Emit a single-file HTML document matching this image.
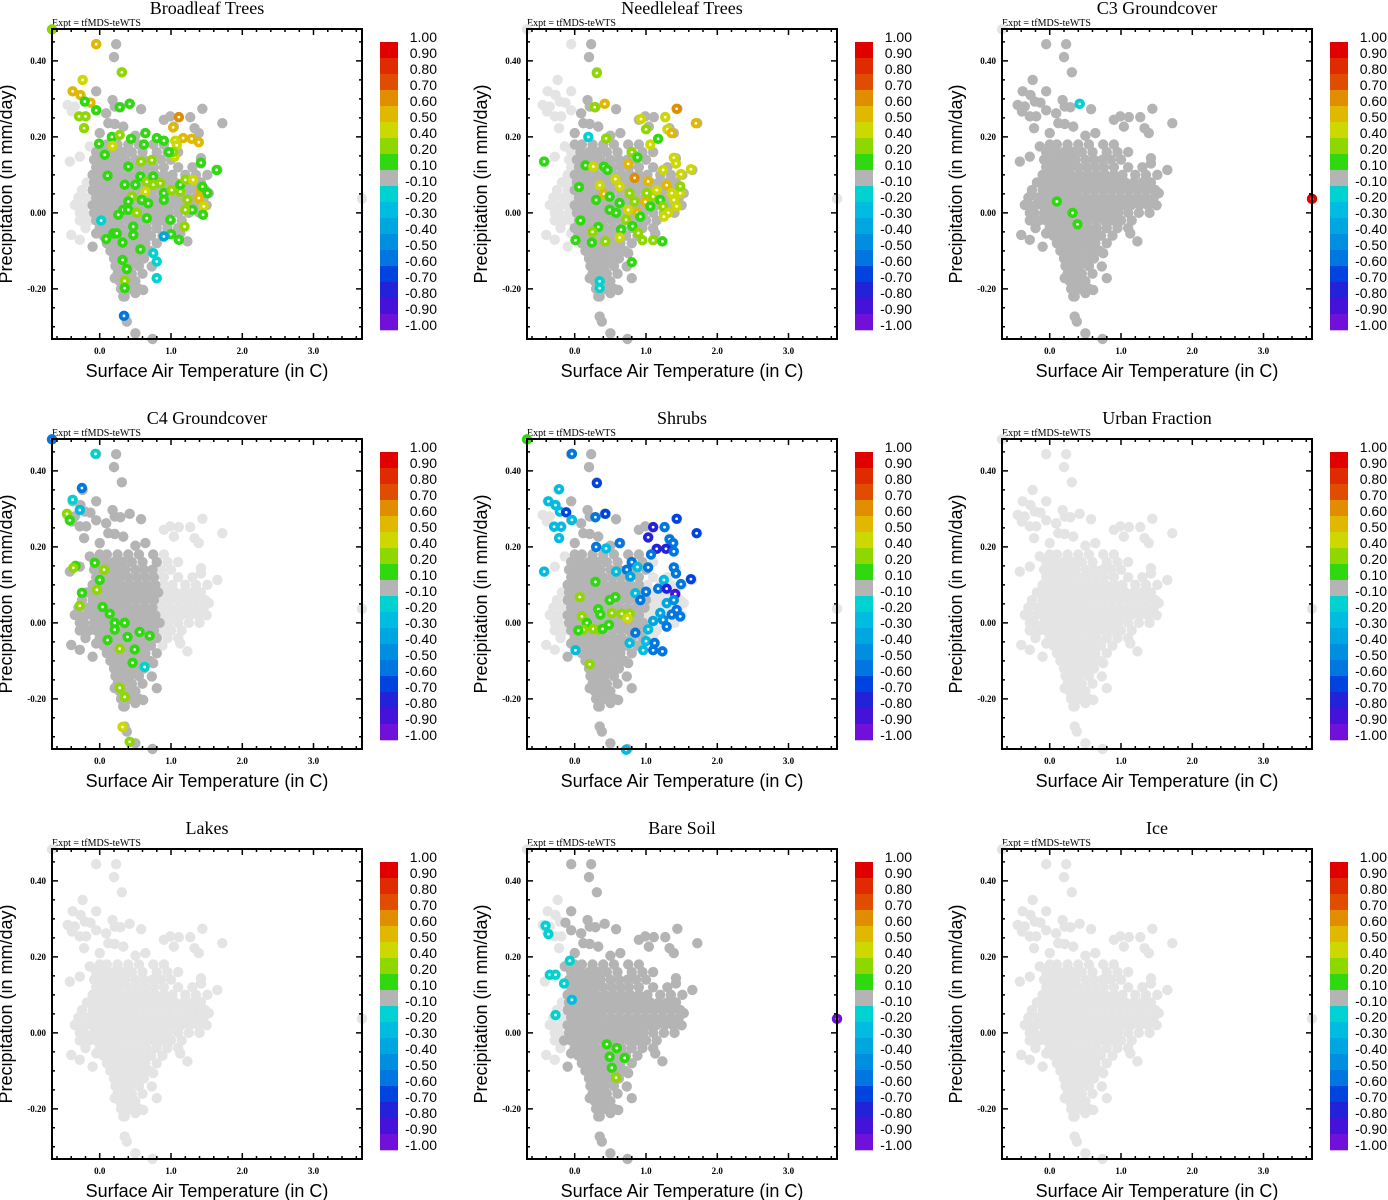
<!DOCTYPE html>
<html><head><meta charset="utf-8"><style>
html,body{margin:0;padding:0;background:#fff}
svg{display:block}
</style></head><body>
<svg id="fig" width="1388" height="1200" viewBox="0 0 1388 1200" xmlns="http://www.w3.org/2000/svg"></svg>
<script>
const panelTitles=["Broadleaf Trees","Needleleaf Trees","C3 Groundcover","C4 Groundcover","Shrubs","Urban Fraction","Lakes","Bare Soil","Ice"];
const xTicks=[0,1,2,3];
const xTickLabels=["0.0","1.0","2.0","3.0"];
const yTicks=[0.4,0.2,0,-0.2];
const yTickLabels=["0.40","0.20","0.00","-0.20"];
const cbLevels=[1.0,0.9,0.8,0.7,0.6,0.5,0.4,0.2,0.1,-0.1,-0.2,-0.3,-0.4,-0.5,-0.6,-0.7,-0.8,-0.9,-1.0];
const cbLabels=["1.00","0.90","0.80","0.70","0.60","0.50","0.40","0.20","0.10","-0.10","-0.20","-0.30","-0.40","-0.50","-0.60","-0.70","-0.80","-0.90","-1.00"];
const cbColors=["#e00000","#e02a00","#e04c00","#e08e00","#e0b800","#ccd800","#8ed800","#30d810","#b4b4b4","#00d2d2","#00bce0","#00a6e0","#008ee0","#0076e0","#0044e0","#2222d8","#4412d8","#7010d8"];
// shared scatter cloud (rows of constant precipitation)
const cloudRowP=[0.18,0.16,0.14,0.12,0.10,0.08,0.06,0.04,0.02,0.00,-0.02,-0.04,-0.06,-0.08,-0.10,-0.12,-0.14,-0.16,-0.18,-0.20,-0.22];
const cloudRowT=[
[0.0,0.1,0.25,0.4,0.55,0.75,0.9],
[-0.05,0.08,0.2,0.32,0.45,0.6,0.8,0.95,1.1],
[-0.08,0.03,0.14,0.25,0.36,0.5,0.62,0.74,0.86,1.0],
[-0.05,0.06,0.17,0.28,0.4,0.52,0.64,0.76,0.9,1.1,1.3],
[-0.1,0.0,0.1,0.2,0.3,0.42,0.54,0.66,0.78,0.9,1.02,1.2,1.35],
[-0.18,-0.08,0.03,0.14,0.25,0.36,0.47,0.58,0.7,0.82,0.94,1.06,1.18,1.3,1.42],
[-0.25,-0.1,0.0,0.1,0.2,0.3,0.4,0.52,0.64,0.76,0.88,1.0,1.12,1.24,1.36,1.48],
[-0.3,-0.17,-0.05,0.06,0.17,0.28,0.39,0.5,0.62,0.74,0.86,0.98,1.1,1.22,1.34,1.46],
[-0.3,-0.2,-0.1,0.0,0.1,0.2,0.3,0.42,0.54,0.66,0.78,0.9,1.02,1.14,1.26,1.38,1.5],
[-0.22,-0.08,0.03,0.14,0.25,0.36,0.48,0.6,0.72,0.84,0.96,1.1,1.25,1.4],
[-0.28,-0.15,-0.05,0.06,0.17,0.28,0.4,0.52,0.64,0.76,0.88,1.0,1.15],
[-0.2,0.0,0.1,0.2,0.3,0.42,0.54,0.66,0.8,0.95,1.1],
[0.05,0.15,0.25,0.36,0.48,0.6,0.72,0.88],
[0.1,0.2,0.3,0.4,0.52,0.64,0.8],
[0.15,0.25,0.35,0.45,0.58,0.7],
[0.2,0.3,0.4,0.5,0.62],
[0.22,0.32,0.42,0.55],
[0.25,0.35,0.45,0.6],
[0.28,0.38,0.5],
[0.3,0.42,0.55],
[0.35]];
const outT=[-0.05,0.23,0.20,0.31,-0.24,-0.38,-0.27,-0.05,-0.45,-0.35,-0.39,-0.28,-0.19,-0.21,-0.13,-0.05,0.18,0.21,0.29,0.42,0.58,1.44,1.72,0.09,0.12,0.21,0.33,-0.22,0.0,0.9,0.99,1.11,1.27,1.33,1.39,1.04,0.64,0.5,-0.14,-0.28,-0.42,1.42,1.42,1.65,1.51,-0.26,-0.35,-0.28,-0.4,-0.28,-0.1,-0.05,1.23,1.13,1.53,0.75,0.8,0.73,0.21,0.33,0.5,0.61,0.35,0.38,0.5,0.74,-0.67,3.68];
const outP=[0.444,0.444,0.41,0.37,0.35,0.32,0.31,0.32,0.284,0.28,0.267,0.254,0.254,0.293,0.29,0.27,0.297,0.28,0.278,0.287,0.273,0.274,0.236,0.262,0.236,0.234,0.227,0.223,0.21,0.245,0.254,0.252,0.252,0.223,0.21,0.227,0.21,0.203,0.175,0.148,0.135,0.144,0.13,0.113,0.1,0.047,0.021,0,-0.058,-0.071,-0.089,-0.054,-0.075,-0.054,0.052,-0.106,-0.172,-0.141,-0.172,-0.22,-0.211,-0.203,-0.273,-0.286,-0.317,-0.332,0.483,0.037];
const darkLo=[-0.1,0.0,-0.5,-0.5,-0.12,null,null,-0.15,null];
const darkHi=[1.8,1.8,1.8,0.85,1.0,null,null,1.8,null];
const broadleafT=[-0.67,-0.05,0.31,-0.24,-0.38,-0.27,-0.13,-0.21,-0.05,0.28,0.42,-0.29,-0.2,-0.22,1.11,1.03,1.17,1.29,1.39,1.06,1.08,1.05,1.03,-0.01,0.17,0.28,0.18,0.44,0.64,0.62,0.8,0.9,0.97,0.07,0.4,0.11,1.42,1.64,0.58,0.73,0.57,0.66,0.75,0.85,0.64,0.75,0.5,0.45,0.35,0.59,0.68,0.9,0.9,1.01,1.13,1.13,1.2,1.31,1.23,1.3,1.2,1.42,1.44,1.51,1.39,1.46,1.45,0.4,0.33,0.26,0.4,0.52,0.66,0.47,0.99,1.19,0.09,0.19,0.24,0.32,0.47,0.57,1.0,1.11,0.32,0.38,0.35,0.35,0.75,0.8,0.8,0.02,0.34,0.9];
const broadleafP=[0.483,0.444,0.37,0.35,0.32,0.31,0.29,0.293,0.27,0.278,0.287,0.254,0.254,0.223,0.252,0.225,0.197,0.195,0.186,0.19,0.178,0.148,0.16,0.182,0.2,0.205,0.176,0.195,0.21,0.18,0.197,0.19,0.16,0.153,0.122,0.098,0.132,0.113,0.135,0.139,0.096,0.082,0.096,0.078,0.056,0.074,0.074,0.043,0.074,0.034,0.025,0.052,0.034,0.06,0.056,0.074,0.087,0.087,0.034,0.008,0.008,0.06,0.069,0.052,0.039,0.017,-0.005,0.03,0.008,-0.005,0.008,0,-0.014,-0.036,-0.018,-0.036,-0.069,-0.054,-0.054,-0.078,-0.058,-0.096,-0.056,-0.071,-0.124,-0.148,-0.179,-0.198,-0.106,-0.128,-0.172,-0.02,-0.271,-0.062];
const broadleafV=[0.3,0.55,0.3,0.45,0.55,0.55,0.55,0.15,0.15,0.15,0.15,0.3,0.3,0.3,0.65,0.55,0.55,0.55,0.55,0.45,0.45,0.45,0.3,0.15,0.15,0.3,0.45,0.15,0.15,0.15,0.15,0.15,0.15,0.15,0.15,0.15,0.15,0.15,0.3,0.3,0.15,0.3,0.15,0.3,0.45,0.3,0.15,0.3,0.15,0.15,0.15,0.15,0.15,0.3,0.3,0.15,0.3,0.45,0.3,0.15,0.3,0.55,0.15,0.15,0.55,0.45,0.15,0.15,0.15,0.15,0.15,0.3,0.15,0.15,0.15,0.3,0.15,0.15,0.15,0.15,0.15,0.15,0.15,0.15,0.15,0.15,0.3,0.15,-0.15,-0.15,-0.15,-0.15,-0.55,-0.35];
const needleleafT=[0.31,0.42,0.28,1.43,1.7,1.27,0.93,1.0,1.3,1.36,0.19,0.44,1.06,1.17,-0.43,0.15,0.26,0.41,0.46,0.8,0.88,0.75,0.84,1.03,1.29,1.39,1.42,1.49,1.63,1.24,0.06,0.35,0.41,0.57,0.3,0.99,0.88,0.75,0.49,0.63,0.77,0.84,0.63,0.58,0.72,0.81,0.65,0.92,0.49,1.1,1.15,1.2,1.24,1.39,1.43,1.48,1.31,1.25,1.36,1.48,1.01,1.06,0.08,0.33,0.25,0.01,0.24,0.43,0.63,0.89,1.1,1.23,0.95,0.8,0.35,0.35];
const needleleafP=[0.368,0.287,0.278,0.274,0.236,0.252,0.247,0.22,0.22,0.21,0.2,0.196,0.18,0.195,0.135,0.125,0.122,0.122,0.113,0.16,0.146,0.129,0.092,0.083,0.073,0.145,0.13,0.102,0.115,0.113,0.068,0.073,0.05,0.089,0.034,0.029,0.0,0.008,0.043,0.026,0.052,0.03,0.07,0.0,-0.018,-0.035,-0.044,-0.01,0.008,0.043,0.06,0.034,0.017,0.034,0.017,0.052,0.0,-0.01,0.052,0.07,0.052,0.017,-0.02,-0.037,-0.05,-0.072,-0.078,-0.075,-0.065,-0.053,-0.072,-0.075,-0.072,-0.13,-0.18,-0.198];
const needleleafV=[0.3,0.55,0.3,0.65,0.55,0.45,0.45,0.3,0.45,0.55,-0.15,0.3,0.45,0.15,0.15,0.15,0.45,0.15,0.15,0.3,0.15,0.55,0.65,0.55,0.55,0.45,0.45,0.45,0.45,0.45,0.15,0.45,0.55,0.45,0.15,0.55,0.55,0.45,0.15,0.15,0.3,0.3,0.45,0.15,0.3,0.15,0.15,0.15,0.15,0.3,0.45,0.15,0.3,0.45,0.45,0.45,0.45,0.45,0.45,0.3,0.3,0.15,0.15,0.15,0.3,0.15,0.15,0.3,0.45,0.3,0.3,0.15,0.3,0.15,-0.15,-0.15];
const c3T=[0.42,0.1,0.32,0.39,3.68];
const c3P=[0.287,0.03,0.0,-0.03,0.037];
const c3V=[-0.15,0.15,0.15,0.15,0.95];
const c4T=[-0.67,-0.06,-0.38,-0.25,-0.46,-0.42,-0.28,-0.34,-0.37,-0.07,0.06,-0.25,-0.04,0.0,-0.28,0.04,0.14,0.21,0.35,0.56,0.7,0.28,0.49,0.63,0.28,0.35,0.32,0.42,0.11,0.21,0.39,0.46];
const c4P=[0.483,0.445,0.324,0.355,0.287,0.27,0.297,0.15,0.145,0.158,0.14,0.079,0.087,0.113,0.045,0.042,0.024,0.0,0.0,-0.024,-0.034,-0.068,-0.07,-0.116,-0.171,-0.195,-0.274,-0.313,-0.045,-0.018,-0.037,-0.105];
const c4V=[-0.55,-0.15,-0.15,-0.55,0.3,0.15,-0.25,0.15,0.3,0.15,0.3,0.15,0.3,0.15,0.3,0.15,0.15,0.15,0.15,0.15,0.15,0.3,0.15,-0.15,0.3,0.3,0.45,0.3,0.15,0.15,0.15,0.15];
const shrubsT=[-0.67,-0.04,0.31,-0.22,-0.37,-0.27,-0.21,-0.12,-0.04,-0.29,-0.19,-0.22,0.29,0.43,1.43,1.71,1.1,1.26,1.03,1.33,1.38,1.15,1.28,1.39,1.07,0.3,0.44,0.63,-0.43,0.8,0.88,1.03,0.73,1.39,1.42,1.63,1.49,1.25,1.17,1.29,1.41,1.29,1.39,1.43,1.48,1.36,1.24,1.2,1.29,1.1,1.03,1.0,1.12,0.96,1.1,1.23,0.85,0.92,1.0,0.78,0.85,0.77,0.58,0.01,0.72,0.29,0.07,0.49,0.57,0.33,0.36,0.52,0.1,0.66,0.77,0.74,0.17,0.12,0.05,0.26,0.34,0.39,0.48,0.21];
const shrubsP=[0.483,0.445,0.368,0.352,0.32,0.31,0.293,0.291,0.271,0.253,0.253,0.223,0.278,0.287,0.274,0.236,0.252,0.252,0.225,0.22,0.21,0.195,0.195,0.188,0.18,0.2,0.196,0.21,0.135,0.16,0.147,0.146,0.14,0.146,0.13,0.115,0.102,0.113,0.09,0.09,0.076,0.052,0.06,0.034,0.017,0.022,0.008,0.026,-0.01,0.005,-0.017,-0.048,-0.053,-0.072,-0.072,-0.075,0.078,0.06,0.082,0.122,-0.026,-0.053,0.135,-0.072,-0.334,0.108,0.068,0.06,0.068,0.036,0.022,0.026,0.017,0.024,0.024,0.012,0.0,-0.018,-0.02,-0.016,-0.018,-0.016,-0.005,-0.109];
const shrubsV=[0.15,-0.55,-0.65,-0.25,-0.25,-0.25,-0.25,-0.65,-0.25,-0.25,-0.25,-0.25,-0.55,-0.65,-0.65,-0.65,-0.75,-0.55,-0.75,-0.55,-0.55,-0.75,-0.75,-0.55,-0.55,-0.55,-0.25,-0.55,-0.25,-0.55,-0.25,-0.55,-0.55,-0.55,-0.55,-0.65,-0.55,-0.25,-0.55,-0.75,-0.85,-0.35,-0.45,-0.55,-0.55,-0.55,-0.45,-0.35,-0.55,-0.35,-0.25,-0.25,-0.55,-0.25,-0.55,-0.55,-0.25,-0.55,-0.55,-0.35,-0.55,-0.25,-0.25,-0.25,-0.25,0.15,0.3,0.15,0.15,0.15,0.15,0.3,0.3,0.3,0.3,0.45,0.15,0.3,0.15,0.3,0.3,0.15,0.15,0.3];
const urbanT=[], urbanP=[], urbanV=[];
const lakesT=[], lakesP=[], lakesV=[];
const bareT=[-0.41,-0.37,-0.35,-0.27,-0.07,-0.04,-0.27,-0.15,0.45,0.59,0.49,0.7,0.52,0.58,3.68];
const bareP=[0.282,0.26,0.153,0.153,0.19,0.087,0.047,0.13,-0.03,-0.04,-0.063,-0.066,-0.092,-0.118,0.037];
const bareV=[-0.15,-0.15,-0.15,-0.15,-0.15,-0.25,-0.15,-0.15,0.15,0.15,0.15,0.15,0.15,0.3,-0.95];
const iceT=[], iceP=[], iceV=[];
const panelT=[broadleafT,needleleafT,c3T,c4T,shrubsT,urbanT,lakesT,bareT,iceT];
const panelP=[broadleafP,needleleafP,c3P,c4P,shrubsP,urbanP,lakesP,bareP,iceP];
const panelV=[broadleafV,needleleafV,c3V,c4V,shrubsV,urbanV,lakesV,bareV,iceV];

const NS="http://www.w3.org/2000/svg";
const svg=document.getElementById('fig');
const PL=52,PT=29,PW=310,PH=310;
const TMIN=-0.67,TMAX=3.68,PMAX=0.484,PMIN=-0.332;
const R=5.2;
function mk(tag,attrs,parent){const e=document.createElementNS(NS,tag);for(const k in attrs)e.setAttribute(k,attrs[k]);parent.appendChild(e);return e;}
function xs(t){return PL+(t-TMIN)/(TMAX-TMIN)*PW;}
function ys(p){return PT+(PMAX-p)/(PMAX-PMIN)*PH;}
function colorFor(v){for(let i=0;i<cbColors.length;i++){if(v<=cbLevels[i]&&v>cbLevels[i+1])return cbColors[i];}return v>1?cbColors[0]:cbColors[cbColors.length-1];}

panelTitles.forEach((title,k)=>{
  const ox=(k%3)*475, oy=Math.floor(k/3)*410;
  const g=mk('g',{transform:`translate(${ox},${oy})`},svg);
  
  
  const tt=mk('text',{x:PL+PW/2,y:14,'text-anchor':'middle','font-family':'"Liberation Serif",serif','font-size':'18'},g);
  tt.textContent=title;
  
  
  const ex=mk('text',{x:PL,y:26,'font-family':'"Liberation Serif",serif','font-size':'10'},g);
  ex.textContent='Expt = tfMDS-teWTS';
  
  
  const cp=mk('clipPath',{id:'cp'+k},g);
  mk('rect',{x:PL-6,y:PT-6,width:PW+12,height:PH+12},cp);
  const pts=mk('g',{'clip-path':`url(#cp${k})`},g);
  
  
  const light=[],dark=[];
  function addCloud(t,p){const isDark=darkLo[k]!==null&&t>=darkLo[k]&&t<=darkHi[k];(isDark?dark:light).push([t,p]);}
  cloudRowP.forEach((p,i)=>cloudRowT[i].forEach(t=>addCloud(t,p)));
  outT.forEach((t,i)=>addCloud(t,outP[i]));
  light.forEach(([t,p])=>{const c=mk('circle',{cx:xs(t),cy:ys(p),r:R,fill:'#e4e4e4'},pts);
    
    });
  dark.forEach(([t,p])=>{const c=mk('circle',{cx:xs(t),cy:ys(p),r:R,fill:'#b4b4b4'},pts);
    
    });
  panelT[k].forEach((t,i)=>{const col=colorFor(panelV[k][i]);
    const c=mk('circle',{cx:xs(t),cy:ys(panelP[k][i]),r:R,fill:col},pts);
    
    
    mk('circle',{cx:xs(t),cy:ys(panelP[k][i]),r:1.4,fill:'#fff'},pts);});
  const fr=mk('rect',{x:PL,y:PT,width:PW,height:PH,fill:'none',stroke:'#000','stroke-width':2},g);
  
  
  let d='';
  for(let t=-0.6;t<=3.61;t+=0.2){const x=xs(t).toFixed(1);const major=Math.abs(t-Math.round(t))<0.01;const L=major?6:3;
    d+=`M${x} ${PT+PH}v${-L}M${x} ${PT}v${L}`;}
  for(let p=-0.3;p<=0.451;p+=0.05){const y=ys(p).toFixed(1);const major=Math.abs(p*5-Math.round(p*5))<0.01;const L=major?6:3;
    d+=`M${PL} ${y}h${L}M${PL+PW} ${y}h${-L}`;}
  mk('path',{d:d,stroke:'#000','stroke-width':1.5,fill:'none'},g);
  xTicks.forEach((t,i)=>{const e=mk('text',{x:xs(t),y:PT+PH+15,'text-anchor':'middle','font-family':'"Liberation Serif",serif','font-size':'9','font-weight':'bold'},g);
    e.textContent=xTickLabels[i];
    
    });
  yTicks.forEach((p,i)=>{const e=mk('text',{x:PL-6,y:ys(p)+3,'text-anchor':'end','font-family':'"Liberation Serif",serif','font-size':'9','font-weight':'bold'},g);
    e.textContent=yTickLabels[i];
    
    });
  const xt=mk('text',{x:PL+PW/2,y:377,'text-anchor':'middle','font-family':'"Liberation Sans",sans-serif','font-size':'18'},g);
  xt.textContent='Surface Air Temperature (in C)';
  
  
  const yt=mk('text',{x:0,y:0,'text-anchor':'middle','font-family':'"Liberation Sans",sans-serif','font-size':'18',transform:`translate(12,${PT+PH/2}) rotate(-90)`},g);
  yt.textContent='Precipitation (in mm/day)';
  
  
  const cb=mk('g',{},g);
  
  
  cbColors.forEach((c,i)=>{mk('rect',{x:380,y:42+16*i,width:18,height:16.3,fill:c},cb);});
  cbLabels.forEach((l,i)=>{const e=mk('text',{x:437,y:42+16*i,'text-anchor':'end','font-family':'"Liberation Sans",sans-serif','font-size':'14'},cb);
    e.textContent=l;
    
    });
});
</script>
</body></html>
